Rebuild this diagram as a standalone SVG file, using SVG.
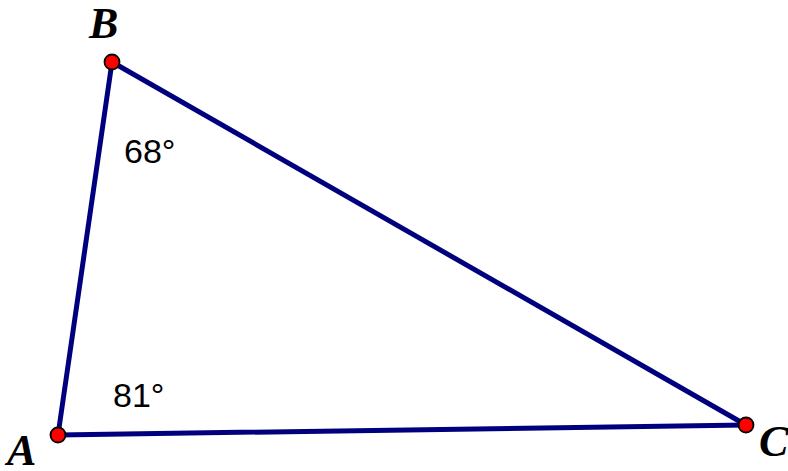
<svg xmlns="http://www.w3.org/2000/svg" width="788" height="471" viewBox="0 0 788 471">
<style>
.side{stroke:#00007f;stroke-width:5;stroke-linecap:round;fill:none}
.pt{fill:#ff0000;stroke:#000;stroke-width:1.8}
.lbl{font-family:"Liberation Serif",serif;font-weight:bold;font-style:italic;font-size:44px;fill:#000}
.ang{font-family:"Liberation Sans",Arial,sans-serif;font-size:34px;fill:#000}
</style>
<rect width="788" height="471" fill="#fff"/>
<g id="connectors">
<line class="side" x1="112" y1="62" x2="58" y2="435"/>
<line class="side" x1="112" y1="62" x2="746" y2="425"/>
<line class="side" x1="58" y1="435" x2="746" y2="425"/>
</g>
<g id="angle-B"><text class="ang" x="124" y="163">68°</text></g>
<g id="angle-A"><text class="ang" x="113" y="407">81°</text></g>
<g id="node-B"><circle class="pt" cx="112" cy="62" r="7.5"/><text class="lbl" x="89" y="38">B</text></g>
<g id="node-A"><circle class="pt" cx="58" cy="435" r="7.5"/><text class="lbl" x="7" y="465">A</text></g>
<g id="node-C"><circle class="pt" cx="746" cy="425" r="7.5"/><text class="lbl" x="759" y="456">C</text></g>
</svg>
